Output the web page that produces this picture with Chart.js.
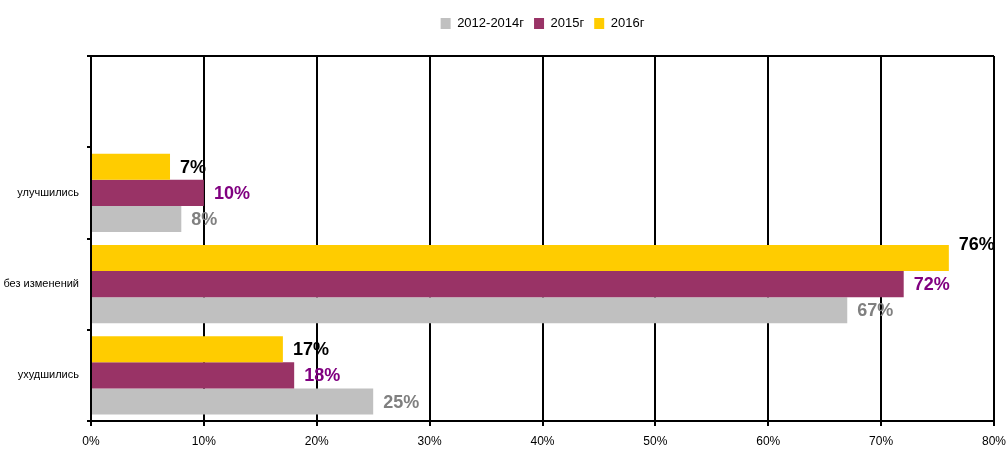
<!DOCTYPE html>
<html>
<head>
<meta charset="utf-8">
<script src="https://cdn.jsdelivr.net/npm/chart.js@4"></script>
<style>
  html, body { margin: 0; padding: 0; background: #fff; }
  #wrap { width: 1008px; height: 450px; }
</style>
</head>
<body>
<div id="wrap"><canvas id="chart" width="1008" height="450"></canvas></div>
<script>
// --- data ---
const categories = ['', 'улучшились', 'без изменений', 'ухудшились'];
const seriesNames = ['2016г', '2015г', '2012-2014г'];
const values2016 = [null, 7, 76, 17];
const values2015 = [null, 10, 72, 18];
const values2012 = [null, 8, 67, 25];
const xTicks = [0, 10, 20, 30, 40, 50, 60, 70, 80];

const FONT = "'Liberation Sans Narrow', 'Arial Narrow', 'Liberation Sans', Arial, sans-serif";
const barColors = ['#FFCC00', '#993366', '#C0C0C0'];
const labelColors = ['#000000', '#800080', '#808080'];

// value labels next to each bar
const valueLabels = {
    id: 'valueLabels',
    afterDatasetsDraw(chart) {
        const c = chart.ctx;
        const area = chart.chartArea;
        c.save();
        c.font = 'bold 18px ' + FONT;
        c.textBaseline = 'middle';
        c.textAlign = 'left';
        chart.data.datasets.forEach((ds, i) => {
            chart.getDatasetMeta(i).data.forEach((bar, j) => {
                const v = ds.data[j];
                if (v == null) return;
                const txt = v + '%';
                const x = bar.x + 10;
                let y = bar.y + 1;
                if (x + c.measureText(txt).width > area.right - 4) y -= 14;
                c.fillStyle = labelColors[i];
                c.fillText(txt, x, y);
            });
        });
        c.restore();
    }
};

// top frame line, extra room under the legend, legend centred over the plot
const frame = {
    id: 'frame',
    beforeInit(chart) {
        const fit = chart.legend.fit;
        chart.legend.fit = function () {
            fit.call(this);
            this.height += 16;
        };
    },
    afterLayout(chart) {
        const a = chart.chartArea;
        const lg = chart.legend;
        const shift = (a.left + a.right) / 2 - (lg.left + lg.right) / 2;
        lg.left += shift;
        lg.right += shift;
        if (lg.adjustHitBoxes) lg.adjustHitBoxes();
    },
    afterDraw(chart) {
        const a = chart.chartArea;
        const c = chart.ctx;
        c.save();
        c.strokeStyle = '#000';
        c.lineWidth = 2;
        c.beginPath();
        c.moveTo(a.left, a.top);
        c.lineTo(a.right, a.top);
        c.stroke();
        c.restore();
    }
};

new Chart(document.getElementById('chart').getContext('2d'), {
    type: 'bar',
    data: {
        labels: categories,
        datasets: [
            { label: seriesNames[0], data: values2016, backgroundColor: barColors[0] },
            { label: seriesNames[1], data: values2015, backgroundColor: barColors[1] },
            { label: seriesNames[2], data: values2012, backgroundColor: barColors[2] }
        ]
    },
    options: {
        indexAxis: 'y',
        responsive: false,
        animation: false,
        categoryPercentage: 0.86,
        barPercentage: 1.0,
        layout: { padding: { top: 7, right: 0, bottom: 0, left: 0 } },
        scales: {
            x: {
                min: 0,
                max: 80,
                afterBuildTicks: (s) => { s.ticks = xTicks.map(v => ({ value: v })); },
                afterFit: (s) => { s.height = 29; s.paddingRight = 14; },
                grid: { color: '#000', lineWidth: 2, tickLength: 5, tickColor: '#000' },
                border: { color: '#000', width: 2 },
                ticks: {
                    color: '#000',
                    padding: 8,
                    font: { family: FONT, size: 12 },
                    callback: (v) => v + '%'
                }
            },
            y: {
                afterFit: (s) => { s.width = 91; },
                grid: { drawOnChartArea: false, offset: true, tickLength: 4, tickColor: '#000', lineWidth: 2 },
                border: { color: '#000', width: 2 },
                ticks: {
                    color: '#000',
                    padding: 8,
                    font: { family: FONT, size: 11 }
                }
            }
        },
        plugins: {
            legend: {
                position: 'top',
                reverse: true,
                labels: {
                    boxWidth: 10,
                    boxHeight: 11,
                    padding: 10,
                    color: '#000',
                    font: { family: FONT, size: 13 }
                }
            },
            tooltip: { enabled: false }
        }
    },
    plugins: [valueLabels, frame]
});
</script>
</body>
</html>
